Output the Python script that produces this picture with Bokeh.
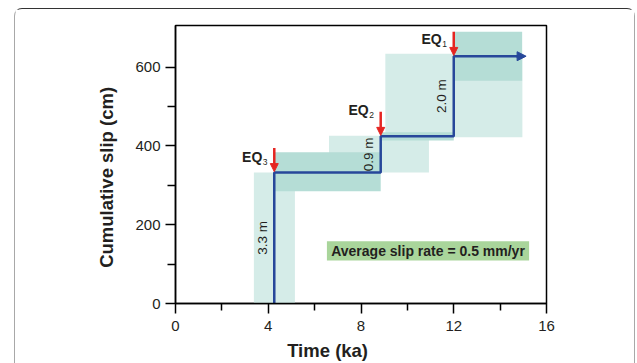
from bokeh.plotting import figure
from bokeh.models import Range1d, FixedTicker, Arrow, NormalHead
from bokeh.core.properties import value
from bokeh.embed import file_html
from bokeh.resources import INLINE
import math

# ---------------- data ----------------
event_names = ["EQ", "EQ", "EQ"]
event_subs = ["3", "2", "1"]
event_time = [4.26, 8.85, 12.0]          # ka
cum_slip = [333, 425, 628]               # cm after each event
slip_labels = ["3.3 m", "0.9 m", "2.0 m"]
present_time = 15.0

# uncertainty boxes (ka, cm)
light_left = [3.38, 6.62, 9.05]
light_right = [5.15, 10.93, 14.96]
light_bottom = [0, 333, 422]
light_top = [333, 426, 634]

dark_left = [4.26, 12.0, 8.85]
dark_right = [8.85, 14.95, 12.0]
dark_bottom = [285, 566, 414]
dark_top = [384, 690, 435]

rate_text = "Average slip rate = 0.5 mm/yr"
rate_box = dict(left=6.53, right=15.25, bottom=109, top=158)

x_title = "Time (ka)"
y_title = "Cumulative slip (cm)"
x_ticks = [0, 4, 8, 12, 16]
x_minor = [2, 6, 10, 14]
y_ticks = [0, 200, 400, 600]
y_minor = [100, 300, 500]

# ---------------- style ----------------
FONT = "Liberation Sans, Arial, sans-serif"
TXT = "#231f20"
BLUE = "#27479a"
RED = "#e52521"
LIGHT = "#d5ece8"
DARK = "#b5ddd6"
GREEN = "#a9d59b"
NBSP = "\u00a0"

p = figure(frame_width=371, frame_height=278,
           min_border_left=160, min_border_top=16,
           min_border_right=88, min_border_bottom=59,
           x_range=Range1d(0, 16), y_range=Range1d(0, 706),
           output_backend="svg", toolbar_location=None)
p.margin = (8, 0, 0, 14)
p.styles = {"border-top": "1px solid #333333",
            "border-left": "1.5px solid #a8a8a8",
            "border-right": "1.5px solid #a8a8a8",
            "border-radius": "8px 8px 0 0"}
p.background_fill_color = "white"
p.border_fill_color = "white"
p.outline_line_color = "black"
p.outline_line_width = 1.5
p.xgrid.visible = False
p.ygrid.visible = False

for ax in (p.xaxis, p.yaxis):
    ax.axis_line_color = "black"
    ax.axis_line_width = 1.5
    ax.major_tick_line_color = "black"
    ax.major_tick_line_width = 1.5
    ax.minor_tick_line_color = "black"
    ax.minor_tick_line_width = 1.5
    ax.major_tick_in = 0
    ax.minor_tick_in = 0
    ax.major_tick_out = 10
    ax.minor_tick_out = 7
    ax.major_label_text_font = FONT
    ax.major_label_text_font_size = "15px"
    ax.major_label_text_color = TXT
    ax.axis_label_text_font = FONT
    ax.axis_label_text_font_style = "bold"
    ax.axis_label_text_font_size = "18.5px"
    ax.axis_label_text_color = TXT

p.xaxis.ticker = FixedTicker(ticks=x_ticks, minor_ticks=x_minor)
p.yaxis.ticker = FixedTicker(ticks=y_ticks, minor_ticks=y_minor)
p.xaxis.major_label_standoff = 7
p.yaxis.major_label_standoff = 5
p.yaxis.minor_tick_out = 8
# titles sit off-centre in the reference; pad with no-break spaces
p.xaxis.axis_label = x_title + NBSP * 13
p.yaxis.axis_label = y_title + NBSP * 5
p.xaxis.axis_label_standoff = 6
p.yaxis.axis_label_standoff = 15

# boxes
p.quad(left=light_left, right=light_right, bottom=light_bottom, top=light_top,
       fill_color=LIGHT, line_color=None)
p.quad(left=dark_left, right=dark_right, bottom=dark_bottom, top=dark_top,
       fill_color=DARK, line_color=None)

# step line
xs, ys = [], []
prev = 0
for t, s in zip(event_time, cum_slip):
    xs += [t, t]
    ys += [prev, s]
    prev = s
xs.append(present_time)
ys.append(prev)
p.line(xs, ys, line_color=BLUE, line_width=2.5)
p.add_layout(Arrow(end=NormalHead(size=9, fill_color=BLUE, line_color=BLUE, line_width=1),
                   x_start=present_time - 0.3, y_start=prev,
                   x_end=present_time + 0.12, y_end=prev,
                   line_color=BLUE, line_width=2.5))

# slip amount labels (rotated)
prev = 0
mids = []
for s in cum_slip:
    mids.append((prev + s) / 2)
    prev = s
p.text(x=event_time, y=mids, text=slip_labels, angle=math.pi / 2,
       x_offset=-12, text_align="center", text_baseline="middle",
       text_font=value(FONT), text_font_size="13.5px", text_color=TXT)

# red event arrows and EQ labels
label_dy = [15, 26, 17]   # px above the step
for t, s, nm, sub, dy in zip(event_time, cum_slip, event_names, event_subs, label_dy):
    p.add_layout(Arrow(end=NormalHead(size=8, fill_color=RED, line_color=RED, line_width=1),
                       x_start=t, y_start=s + 62, x_end=t, y_end=s + 2,
                       line_color=RED, line_width=2.5))
    p.text(x=[t], y=[s], text=[nm], x_offset=-12, y_offset=-dy,
           text_align="right", text_baseline="middle",
           text_font=value(FONT), text_font_style="bold",
           text_font_size="14px", text_color=TXT)
    p.text(x=[t], y=[s], text=[sub], x_offset=-11.5, y_offset=-dy + 5,
           text_align="left", text_baseline="middle",
           text_font=value(FONT), text_font_size="8.5px", text_color=TXT)

# slip rate box
p.quad(left=[rate_box["left"]], right=[rate_box["right"]],
       bottom=[rate_box["bottom"]], top=[rate_box["top"]],
       fill_color=GREEN, line_color=None)
p.text(x=[(rate_box["left"] + rate_box["right"]) / 2],
       y=[(rate_box["bottom"] + rate_box["top"]) / 2],
       text=[rate_text], text_align="center", text_baseline="middle",
       text_font=value(FONT), text_font_style="bold",
       text_font_size="14px", text_color=TXT)

open("out.html", "w").write(file_html(p, INLINE))
